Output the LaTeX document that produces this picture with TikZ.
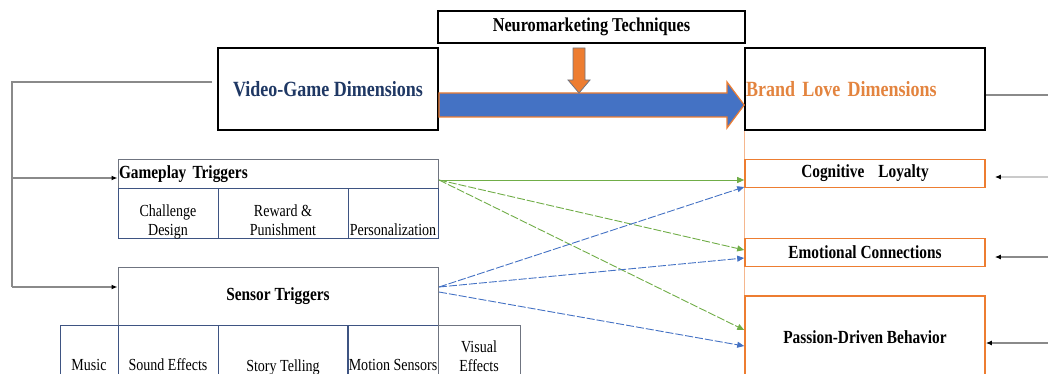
\documentclass[tikz,border=0pt]{standalone}
\usepackage{fontspec}
\setmainfont{Liberation Serif}[FakeStretch=0.83]
\usetikzlibrary{arrows.meta,calc}
\definecolor{vgblue}{HTML}{1F3864}
\definecolor{borange}{HTML}{ED7D31}
\definecolor{torange}{HTML}{E3843F}
\definecolor{ablue}{HTML}{4472C4}
\definecolor{agreen}{HTML}{70AD47}
\definecolor{bgray}{HTML}{6F7480}
\definecolor{dblue}{HTML}{3E5482}
\definecolor{lgray}{HTML}{8A8A8A}
\newcommand{\lowtext}[2]{\raisebox{-#1}[\height][\depth]{#2}}
\newcommand{\twolines}[2]{\begin{tabular}{@{}c@{}}#1\\#2\end{tabular}}
\begin{document}
\begin{tikzpicture}[x=1pt,y=-1pt,
  blackbox/.style={draw=black, line width=1.6pt, inner sep=0pt, font=\fontsize{21.7}{25}\selectfont\bfseries},
  neubox/.style={draw=black, line width=1.6pt, font=\fontsize{19.6}{23}\selectfont\bfseries},
  trig/.style={draw=bgray, line width=1pt, inner sep=1pt, font=\fontsize{18.5}{22}\selectfont\bfseries},
  subbox/.style={draw=dblue, line width=1pt, inner sep=1pt, align=center, font=\fontsize{16.9}{19.5}\selectfont},
  obox/.style={draw=borange, line width=1.6pt, font=\fontsize{18.5}{22}\selectfont\bfseries},
  gline/.style={draw=lgray, line width=1.2pt},
  gtip/.style={-{Latex[length=6pt,width=5pt,color=black]}},
  gconn/.style={draw=agreen, line width=0.9pt, -{Triangle[length=7pt,width=6pt]}},
  bconn/.style={draw=ablue, line width=0.9pt, -{Triangle[length=7pt,width=6pt]}},
  longdash/.style={dash pattern=on 8pt off 2pt}
]
\useasboundingbox (0,0) rectangle (1048,374);
\clip (0,0) rectangle (1048,374);

% top boxes
\node[neubox, minimum width=307pt, minimum height=32pt] (NT) at (591.5,27) {Neuromarketing Techniques};
\node[blackbox, text=vgblue, minimum width=220pt, minimum height=82pt] (VG) at (328,89) {Video-Game Dimensions};
\node[blackbox, text=torange, minimum width=240pt, minimum height=82pt, text width=238pt, align=left] (BL) at (865,89) {Brand Love Dimensions};

% gameplay triggers
\node[trig, minimum width=320pt, minimum height=28pt, text width=318pt, align=left] (GP) at (278,174) {Gameplay Triggers};
\node[subbox, minimum width=100pt, minimum height=50pt] (CD) at (168,213) {\lowtext{9pt}{\twolines{Challenge}{Design}}};
\node[subbox, minimum width=130pt, minimum height=50pt] (RP) at (283,213) {\lowtext{9pt}{\twolines{Reward \&}{Punishment}}};
\node[subbox, minimum width=90pt, minimum height=50pt] (PE) at (393,213) {\lowtext{17pt}{Personalization}};

% sensor triggers
\node[trig, minimum width=320pt, minimum height=58pt] (SN) at (278,296) {Sensor Triggers};
\node[subbox, minimum width=58pt, minimum height=62pt] (MU) at (89,356) {\lowtext{9pt}{Music}};
\node[subbox, minimum width=100pt, minimum height=62pt] (SE) at (168,356) {\lowtext{9pt}{Sound Effects}};
\node[subbox, minimum width=130pt, minimum height=62pt] (ST) at (283,356) {\lowtext{11.5pt}{Story Telling}};
\node[subbox, minimum width=90pt, minimum height=62pt] (MS) at (393,356) {\lowtext{9pt}{Motion Sensors}};
\node[subbox, draw=bgray, minimum width=82pt, minimum height=62pt] (VE) at (479,356) {Visual\\Effects};

% brand love boxes
\draw[draw=borange!55, line width=0.6pt] (BL.south west) -- (BL.south west |- 0,374);
\node[obox, minimum width=240pt, minimum height=28pt] (CL) at (865,173.5) {Cognitive\hspace{14pt}Loyalty};
\node[obox, minimum width=240pt, minimum height=28pt] (EC) at (865,252.5) {Emotional Connections};
\node[obox, minimum width=240pt, minimum height=82pt] (PD) at (865,337) {Passion-Driven Behavior};

% big blue arrow and orange down arrow
\fill[ablue, draw=borange, line width=1.2pt] (439,93) -- (727,93) -- (727,82) -- (BL.west |- 0,105) -- (727,128) -- (727,117) -- (439,117) -- cycle;
\fill[borange, draw=bgray, line width=0.8pt] (573,48) -- (585,48) -- (585,80) -- (590,80) -- (579,93) -- (568,80) -- (573,80) -- cycle;

% left connectors
\coordinate (L1) at (12,82);
\coordinate (L2) at (12,178);
\coordinate (L3) at (12,287);
\draw[gline] ([xshift=-5pt,yshift=7pt]VG.west) -- (L1) -- (L3);
\draw[gline, gtip] (L3) -- (SN.west |- L3);
\draw[gline, gtip] (L2) -- (GP.west |- L2);

% right connectors
\coordinate (R0) at (1048,95);
\coordinate (R1) at (1048,177);
\coordinate (R2) at (1048,257);
\coordinate (R3) at (1048,343);
\draw[gline] (BL.east |- R0) -- (R0);
\draw[gline, draw=lgray!45, gtip] (R1) -- ($(CL.east |- R1)+(9,0)$);
\draw[gline, gtip] (R2) -- ($(EC.east |- R2)+(9,0)$);
\draw[gline, gtip] (R3) -- (PD.east |- R3);

% green / blue influence connectors
\coordinate (G0) at (439,180);
\coordinate (B0) at (439,287);
\coordinate (B1) at (439,292);
\draw[gconn] (G0) -- ([yshift=-6.5pt]CL.west);
\draw[gconn, longdash] (G0) -- ([yshift=2.5pt]EC.west);
\draw[gconn, longdash] (G0) -- ([yshift=7pt]PD.west);
\draw[bconn, longdash] (B0) -- ([yshift=-13.5pt]CL.west);
\draw[bconn, longdash] (B0) -- ([yshift=-5.5pt]EC.west);
\draw[bconn, longdash] (B1) -- ([yshift=-9pt]PD.west);
\end{tikzpicture}
\end{document}
